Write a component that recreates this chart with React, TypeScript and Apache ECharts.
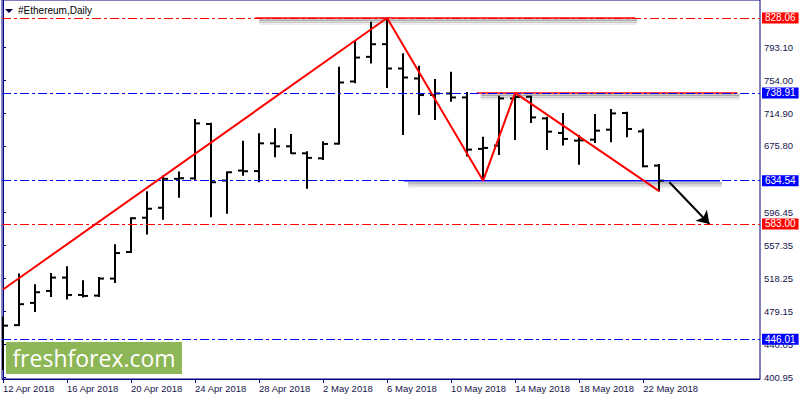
import React, { useEffect, useRef } from "react";
import * as echarts from "echarts";

const dates = [
  "12 Apr 2018", "13 Apr 2018", "14 Apr 2018", "15 Apr 2018", "16 Apr 2018", "17 Apr 2018",
  "18 Apr 2018", "19 Apr 2018", "20 Apr 2018", "21 Apr 2018", "22 Apr 2018", "23 Apr 2018",
  "24 Apr 2018", "25 Apr 2018", "26 Apr 2018", "27 Apr 2018", "28 Apr 2018", "29 Apr 2018",
  "30 Apr 2018", "1 May 2018", "2 May 2018", "3 May 2018", "4 May 2018", "5 May 2018",
  "6 May 2018", "7 May 2018", "8 May 2018", "9 May 2018", "10 May 2018", "11 May 2018",
  "12 May 2018", "13 May 2018", "14 May 2018", "15 May 2018", "16 May 2018", "17 May 2018",
  "18 May 2018", "19 May 2018", "20 May 2018", "21 May 2018", "22 May 2018", "23 May 2018",
];

const opens = [
  455.0, 462.64, 489.1, 503.34, 519.24, 498.59, 497.8, 518.05, 549.61, 590.42, 602.28, 636.69,
  637.2, 701.94, 634.67, 646.54, 645.9, 678.93, 675.36, 667.06, 661.1, 678.5, 752.49, 781.79,
  796.85, 767.92, 756.04, 736.35, 738.25, 733.5, 672.28, 676.2, 732.33, 734.33, 708.59, 691.26,
  682.13, 683.32, 695.18, 714.99, 693.16, 652.47,
];
const highs = [
  472.49, 523.98, 511.29, 524.69, 532.64, 516.03, 519.95, 558.74, 591.13, 621.98, 640.61, 645.35,
  707.87, 703.5, 645.35, 682.13, 690.78, 696.73, 690.08, 669.43, 681.3, 769.93, 801.6, 823.67,
  828.06, 786.17, 771.11, 755.33, 763.99, 740.0, 686.88, 735.52, 738.91, 735.52, 710.5, 714.99,
  688.89, 713.81, 719.74, 716.54, 696.37, 654.48,
];
const lows = [
  409.25, 461.5, 478.42, 496.22, 493.13, 495.51, 496.22, 512.83, 548.5, 570.61, 588.04, 614.15,
  635.5, 591.13, 595.16, 640.25, 632.65, 662.32, 666.5, 624.83, 659.23, 677.5, 750.5, 773.84,
  744.66, 688.89, 712.62, 706.69, 728.4, 663.15, 634.54, 665.17, 682.96, 703.13, 671.09, 676.2,
  653.3, 679.4, 680.1, 686.05, 650.45, 621.63,
];
const closes = [
  462.05, 487.56, 501.8, 519.24, 498.59, 497.41, 518.05, 548.42, 589.8, 601.1, 636.69, 637.4,
  702.65, 632.65, 644.5, 645.71, 678.93, 675.36, 667.06, 661.61, 678.22, 751.3, 780.96, 796.85,
  767.92, 757.23, 736.35, 738.25, 733.5, 671.45, 673.47, 732.33, 733.97, 709.77, 692.81, 684.14,
  682.5, 694.0, 714.52, 696.01, 651.64, 634.54,
];

const xTickIdx = [0, 4, 8, 12, 16, 20, 24, 28, 32, 36, 40];
const yTickValues = [400.95, 440.05, 479.15, 518.25, 557.35, 596.45, 675.8, 714.9, 754.0, 793.1];

// zig-zag trend line (x = bar index, y = price)
const trendX = [0, 24, 30, 32, 41];
const trendY = [505.0, 828.06, 634.54, 738.91, 622.0];

// horizontal level segments
const levelValues = [828.06, 738.91, 634.54];
const levelFrom = [15.75, 29.6, 25.06];
const levelTo = [39.5, 45.9, 44.8];
const levelColors = ["#ff0000", "#ff0000", "#0000ff"];

// price lines with right-axis tags
const priceLines = [828.06, 738.91, 634.54, 583.0, 446.01];
const priceColors = ["#ff0000", "#0000ff", "#0000ff", "#ff0000", "#0000ff"];

// forecast arrow
const arrowX = [41.64, 44.14];
const arrowY = [632.65, 583.0];

const AXIS_COLOR = "#000080";
const LABEL_COLOR = "#14144a";
const FONT = "Liberation Sans";

export default function App() {
  const ref = useRef<HTMLDivElement>(null);

  useEffect(() => {
    if (!ref.current) return;
    const chart = echarts.init(ref.current, undefined, { renderer: "svg" });

    const ohlcData = dates.map((_, i) => [i, opens[i], highs[i], lows[i], closes[i]]);

    // drop shadow drawn as a soft gray band under each segment (pixel offset via renderItem)
    const shadowSeries = {
      type: "custom",
      clip: true,
      silent: true,
      z: 2,
      data: levelValues.map((v, i) => [levelFrom[i], levelTo[i], v]),
      renderItem: (params: any, api: any) => {
        const a = api.coord([api.value(0), api.value(2)]);
        const b = api.coord([api.value(1), api.value(2)]);
        const bands = [
          { dy: 2, w: 2, o: 0.22 },
          { dy: 3.5, w: 3, o: 0.14 },
          { dy: 5.5, w: 3, o: 0.07 },
        ];
        return {
          type: "group",
          children: bands.map((s) => ({
            type: "line",
            shape: { x1: a[0] + 4, y1: a[1] + s.dy, x2: b[0] + 2, y2: b[1] + s.dy },
            style: { stroke: `rgba(0,0,0,${s.o})`, lineWidth: s.w },
          })),
        };
      },
    };

    const levelSeries = levelValues.map((v, i) => ({
      type: "line",
      data: [
        [levelFrom[i], v],
        [levelTo[i], v],
      ],
      symbol: "none",
      silent: true,
      z: 3,
      lineStyle: { color: levelColors[i], width: 1.5 },
    }));

    const option: any = {
      animation: false,
      backgroundColor: "#ffffff",
      grid: {
        left: 2,
        right: 40,
        top: -1,
        bottom: 21,
        show: true,
        borderColor: AXIS_COLOR,
        borderWidth: 1,
        backgroundColor: "transparent",
      },
      xAxis: {
        type: "value",
        min: -0.06,
        max: 47.3,
        axisLine: { show: true, lineStyle: { color: AXIS_COLOR, width: 1 } },
        axisTick: {
          show: true,
          customValues: xTickIdx,
          length: 4,
          lineStyle: { color: AXIS_COLOR },
        },
        axisLabel: {
          customValues: xTickIdx,
          formatter: (v: number) => dates[Math.round(v)] ?? "",
          align: "left",
          color: LABEL_COLOR,
          fontSize: 9.5,
          fontFamily: FONT,
          margin: 4,
        },
        splitLine: { show: false },
      },
      yAxis: {
        type: "value",
        position: "right",
        min: 398.58,
        max: 849.42,
        axisLine: { show: true, lineStyle: { color: AXIS_COLOR, width: 1 } },
        axisTick: {
          show: true,
          customValues: yTickValues,
          length: 3,
          lineStyle: { color: AXIS_COLOR },
        },
        axisLabel: {
          customValues: yTickValues,
          formatter: (v: number) => v.toFixed(2),
          color: LABEL_COLOR,
          fontSize: 9.5,
          fontFamily: FONT,
          margin: 4,
        },
        splitLine: { show: false },
      },
      graphic: [
        {
          type: "polygon",
          shape: { points: [[5, 9], [13, 9], [9, 13]] },
          style: { fill: "#000040" },
          z: 100,
        },
        {
          type: "text",
          x: 18,
          y: 5,
          style: {
            text: "#Ethereum,Daily",
            fill: "#000000",
            font: `10px "${FONT}"`,
          },
          z: 100,
        },
        {
          type: "rect",
          shape: { x: 6, y: 342, width: 176, height: 32 },
          style: { fill: "#8db657" },
          z: 100,
        },
        {
          type: "text",
          x: 94,
          y: 358,
          style: {
            text: "freshforex.com",
            fill: "#ffffff",
            font: `23px "Open Sans"`,
            textAlign: "center",
            textVerticalAlign: "middle",
          },
          z: 101,
        },
      ],
      series: [
        {
          type: "line",
          data: [],
          symbol: "none",
          silent: true,
          z: 2,
          markLine: {
            silent: true,
            symbol: ["none", "none"],
            animation: false,
            data: priceLines.map((v, i) => ({
              yAxis: v,
              lineStyle: { color: priceColors[i], type: [9, 3, 3, 3], width: 1 },
              label: {
                show: true,
                position: "end",
                distance: 2,
                formatter: v.toFixed(2),
                color: "#ffffff",
                backgroundColor: priceColors[i],
                padding: [1, 3, 0, 3],
                fontSize: 10,
                lineHeight: 10,
                fontFamily: FONT,
              },
            })),
          },
        },
        shadowSeries,
        {
          type: "custom",
          clip: true,
          z: 4,
          data: ohlcData,
          encode: { x: 0, y: [1, 2, 3, 4] },
          renderItem: (params: any, api: any) => {
            const x = api.value(0);
            const pO = api.coord([x, api.value(1)]);
            const pH = api.coord([x, api.value(2)]);
            const pL = api.coord([x, api.value(3)]);
            const pC = api.coord([x, api.value(4)]);
            const px = Math.round(pH[0]);
            const w = 5;
            const st = { stroke: "#000000", lineWidth: 2 };
            return {
              type: "group",
              children: [
                { type: "line", shape: { x1: px, y1: pH[1], x2: px, y2: pL[1] }, style: st },
                { type: "line", shape: { x1: px - w, y1: pO[1], x2: px, y2: pO[1] }, style: st },
                { type: "line", shape: { x1: px, y1: pC[1], x2: px + w, y2: pC[1] }, style: st },
              ],
            };
          },
        },
        ...levelSeries,
        {
          type: "line",
          data: trendX.map((x, i) => [x, trendY[i]]),
          symbol: "none",
          silent: true,
          z: 5,
          lineStyle: { color: "#ff0000", width: 2 },
        },
        {
          type: "line",
          data: [],
          symbol: "none",
          silent: true,
          z: 6,
          markLine: {
            silent: true,
            animation: false,
            symbol: ["none", "arrow"],
            symbolSize: 12,
            label: { show: false },
            lineStyle: { color: "#000000", width: 2, type: "solid" },
            data: [
              [
                { coord: [arrowX[0], arrowY[0]] },
                { coord: [arrowX[1], arrowY[1]] },
              ],
            ],
          },
        },
      ],
    };

    chart.setOption(option);
    return () => chart.dispose();
  }, []);

  return (
    <div
      ref={ref}
      style={{ position: "fixed", left: 0, top: 0, width: 800, height: 400, background: "#fff" }}
    />
  );
}
